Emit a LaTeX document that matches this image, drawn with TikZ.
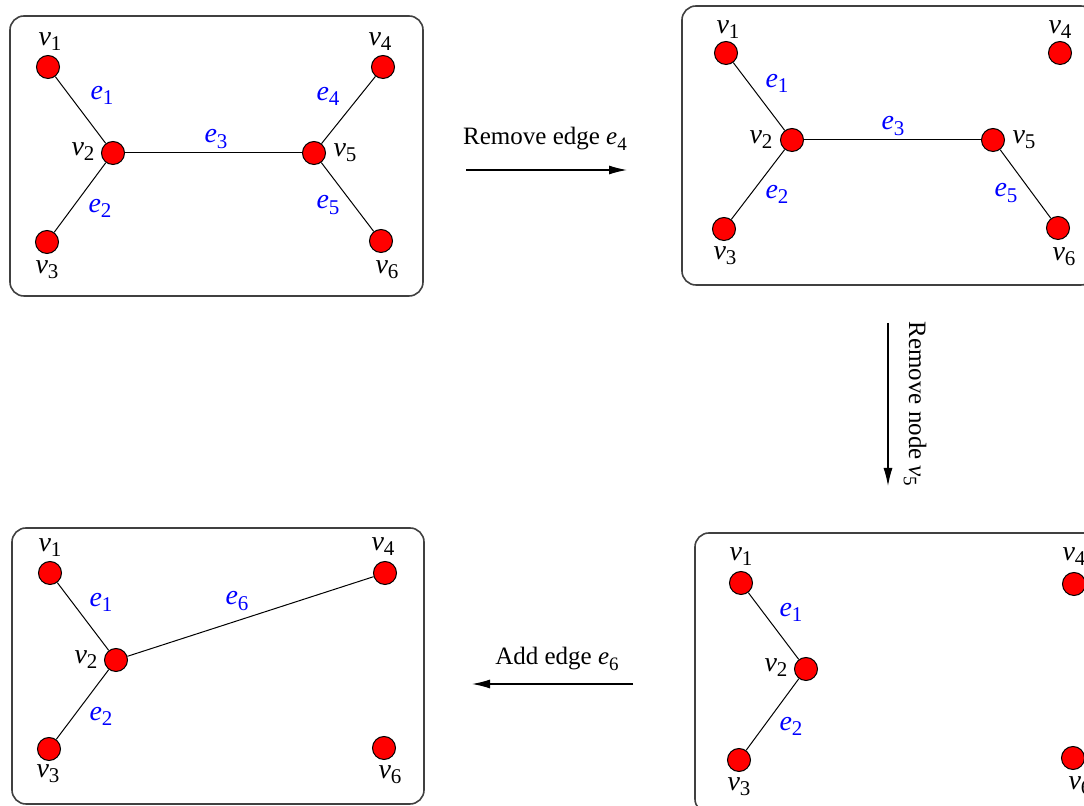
\documentclass[tikz,border=0pt]{standalone}
\usepackage{fontspec}
\setmainfont{Liberation Serif}
\usetikzlibrary{arrows.meta}
\newcommand\vsub[2]{\textit{#1}\raisebox{-0.45ex}{\fontsize{9.5}{10}\selectfont #2}}
\newcommand\gsub[2]{\textit{#1}\raisebox{-0.4ex}{\fontsize{10.5}{11}\selectfont #2}}
\tikzset{
  vtx/.style={circle,draw=black,fill=red,line width=0.5pt,minimum size=11.5pt,inner sep=0pt},
  vlab/.style={inner sep=0pt,font=\fontsize{14}{16}\selectfont},
  elab/.style={inner sep=0pt,text=blue,font=\fontsize{14}{16}\selectfont},
  edge/.style={draw=black,line width=0.5pt},
  panel/.style={draw=black!75,line width=0.8pt,rounded corners=7pt},
  flow/.style={draw=black,line width=0.6pt,-{Latex[length=9pt,width=4.5pt]}},
  flowlab/.style={inner sep=0pt,font=\fontsize{12.5}{15}\selectfont}
}
\begin{document}
\begin{tikzpicture}[x=0.5pt,y=-0.5pt]
\useasboundingbox (0,0) rectangle (1084,806);
\clip (0,0) rectangle (1084,806);
% ---------- panel 1 ----------
\draw[panel] (10,16) rectangle (423,296);
\node[vtx] (a1) at (48,67) {};
\node[vtx] (a2) at (113,153) {};
\node[vtx] (a3) at (47,242) {};
\node[vtx] (a4) at (383,67) {};
\node[vtx] (a5) at (314,153) {};
\node[vtx] (a6) at (381,241) {};
\draw[edge] (a1) -- (a2);
\draw[edge] (a3) -- (a2);
\draw[edge] (a2) -- (a5);
\draw[edge] (a4) -- (a5);
\draw[edge] (a6) -- (a5);
\node[vlab] (a1l) at (50,42) {\gsub{v}{1}};
\node[vlab] (a2l) at (83,152) {\gsub{v}{2}};
\node[vlab] (a3l) at (47,270) {\gsub{v}{3}};
\node[vlab] (a4l) at (380,42) {\gsub{v}{4}};
\node[vlab] (a5l) at (345,153) {\gsub{v}{5}};
\node[vlab] (a6l) at (387,270) {\gsub{v}{6}};
\node[elab] (ae1) at (102,95) {\gsub{e}{1}};
\node[elab] (ae2) at (100,208) {\gsub{e}{2}};
\node[elab] (ae3) at (216,139) {\gsub{e}{3}};
\node[elab] (ae4) at (328,96) {\gsub{e}{4}};
\node[elab] (ae5) at (328,205) {\gsub{e}{5}};
% ---------- panel 2 ----------
\draw[panel] (682,6) rectangle (1095,285);
\node[vtx] (b1) at (726,53) {};
\node[vtx] (b2) at (792,140) {};
\node[vtx] (b3) at (724,229) {};
\node[vtx] (b4) at (1060,53) {};
\node[vtx] (b5) at (993,140) {};
\node[vtx] (b6) at (1058,228) {};
\draw[edge] (b1) -- (b2);
\draw[edge] (b3) -- (b2);
\draw[edge] (b2) -- (b5);
\draw[edge] (b6) -- (b5);
\node[vlab] (b1l) at (728,30) {\gsub{v}{1}};
\node[vlab] (b2l) at (761,140) {\gsub{v}{2}};
\node[vlab] (b3l) at (725,256) {\gsub{v}{3}};
\node[vlab] (b4l) at (1060,30) {\gsub{v}{4}};
\node[vlab] (b5l) at (1024,140) {\gsub{v}{5}};
\node[vlab] (b6l) at (1064,257) {\gsub{v}{6}};
\node[elab] (be1) at (777,83) {\gsub{e}{1}};
\node[elab] (be2) at (777,194) {\gsub{e}{2}};
\node[elab] (be3) at (893,126) {\gsub{e}{3}};
\node[elab] (be5) at (1006,193) {\gsub{e}{5}};
% ---------- panel 3 ----------
\draw[panel] (695,533) rectangle (1108,813);
\node[vtx] (c1) at (741,583) {};
\node[vtx] (c2) at (806,669) {};
\node[vtx] (c3) at (739,760) {};
\node[vtx] (c4) at (1074,584) {};
\node[vtx] (c6) at (1073,758) {};
\draw[edge] (c1) -- (c2);
\draw[edge] (c3) -- (c2);
\node[vlab] (c1l) at (741,557) {\gsub{v}{1}};
\node[vlab] (c2l) at (776,668) {\gsub{v}{2}};
\node[vlab] (c3l) at (739,787) {\gsub{v}{3}};
\node[vlab] (c4l) at (1074,557) {\gsub{v}{4}};
\node[vlab] (c6l) at (1080,786) {\gsub{v}{6}};
\node[elab] (ce1) at (791,612) {\gsub{e}{1}};
\node[elab] (ce2) at (791,726) {\gsub{e}{2}};
% ---------- panel 4 ----------
\draw[panel] (12,528) rectangle (424,804);
\node[vtx] (d1) at (50,573) {};
\node[vtx] (d2) at (116,660) {};
\node[vtx] (d3) at (49,749) {};
\node[vtx] (d4) at (385,573) {};
\node[vtx] (d6) at (384,748) {};
\draw[edge] (d1) -- (d2);
\draw[edge] (d3) -- (d2);
\draw[edge] (d2) -- (d4);
\node[vlab] (d1l) at (50,548) {\gsub{v}{1}};
\node[vlab] (d2l) at (86,660) {\gsub{v}{2}};
\node[vlab] (d3l) at (48,774) {\gsub{v}{3}};
\node[vlab] (d4l) at (383,547) {\gsub{v}{4}};
\node[vlab] (d6l) at (390,775) {\gsub{v}{6}};
\node[elab] (de1) at (101,602) {\gsub{e}{1}};
\node[elab] (de2) at (101,716) {\gsub{e}{2}};
\node[elab] (de6) at (237,601) {\gsub{e}{6}};
% ---------- transitions ----------
\coordinate (t1s) at (466,170);
\coordinate (t1e) at (627,170);
\draw[flow] (t1s) -- (t1e);
\node[flowlab] (t1l) at (545,139) {Remove edge \vsub{e}{4}};
\coordinate (t2s) at (888,323);
\coordinate (t2e) at (888,486);
\draw[flow] (t2s) -- (t2e);
\node[flowlab,rotate=-90] (t2l) at (915,404) {Remove node \vsub{v}{5}};
\coordinate (t3s) at (633,684);
\coordinate (t3e) at (472,684);
\draw[flow] (t3s) -- (t3e);
\node[flowlab] (t3l) at (557,659) {Add edge \vsub{e}{6}};
\end{tikzpicture}
\end{document}
